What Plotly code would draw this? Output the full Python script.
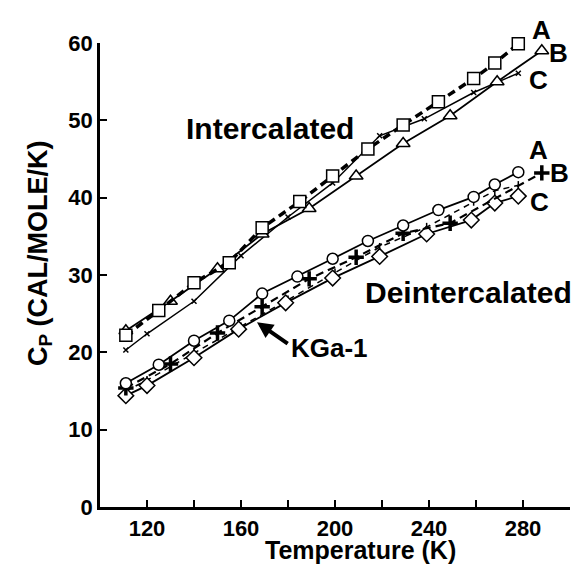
import plotly.graph_objects as go

# ---- data (temperature K, Cp cal/mole/K) ----
int_A_T = [111, 125, 140, 155, 169, 185, 199, 214, 229, 244, 259, 268, 278]
int_A_cp = [22.2, 25.4, 29.0, 31.6, 36.1, 39.5, 42.8, 46.3, 49.4, 52.4, 55.4, 57.4, 59.9]
int_B_T = [111, 130, 150, 169, 189, 209, 229, 249, 269, 288]
int_B_cp = [22.8, 26.6, 30.8, 35.3, 38.6, 42.8, 47.0, 50.6, 55.0, 59.0]
int_C_T = [111, 120, 140, 160, 180, 199, 219, 238, 259, 278]
int_C_cp = [20.3, 22.4, 26.6, 32.5, 37.5, 41.9, 48.0, 50.2, 53.6, 56.1]

de_A_T = [111, 125, 140, 155, 169, 184, 199, 214, 229, 244, 259, 268, 278]
de_A_cp = [16.0, 18.4, 21.5, 24.1, 27.6, 29.8, 32.1, 34.4, 36.4, 38.4, 40.1, 41.7, 43.3]
de_B_T = [111, 130, 150, 169, 189, 209, 229, 249, 288]
de_B_cp = [15.4, 18.5, 22.5, 25.9, 29.5, 32.3, 35.4, 36.7, 43.2]
de_C_T = [111, 120, 140, 159, 179, 199, 219, 239, 258, 268, 278]
de_C_cp = [14.4, 15.7, 19.3, 23.0, 26.4, 29.6, 32.4, 35.3, 37.1, 39.3, 40.2]
kga_T = [111, 120, 140, 160, 180, 200, 219, 239, 259, 268, 278]
kga_cp = [15.0, 16.4, 19.9, 23.3, 26.8, 30.3, 33.6, 36.2, 39.5, 40.9, 41.6]

x_tickvals = [100, 120, 140, 160, 180, 200, 220, 240, 260, 280, 300]
x_ticktext = ["", "120", "", "160", "", "200", "", "240", "", "280", ""]
y_tickvals = [0, 10, 20, 30, 40, 50, 60]

FONT = "Liberation Sans, Arial, sans-serif"
fig = go.Figure()

def add(T, cp, symbol, size, dash, width, mwidth=1.5):
    fig.add_trace(go.Scatter(
        x=T, y=cp, mode="lines+markers",
        line=dict(color="black", width=width, dash=dash),
        marker=dict(symbol=symbol, size=size, color="white",
                    line=dict(color="black", width=mwidth)),
        cliponaxis=False, showlegend=False))

# Intercalated
add(int_C_T, int_C_cp, "x-thin", 5, "solid", 1.5, 1.5)
add(int_B_T, int_B_cp, "triangle-up", 12, "solid", 1.8)
add(int_A_T, int_A_cp, "square", 12, "8px,5px", 3.5)
# Deintercalated
add(kga_T, kga_cp, "line-ns", 6, "6px,5px", 1.5, 1.5)
add(de_C_T, de_C_cp, "diamond", 12, "solid", 1.8)
add(de_B_T, de_B_cp, "cross-thin", 11, "8px,5px", 2.2, 3.5)
add(de_A_T, de_A_cp, "circle", 11, "solid", 1.8)

def label(x, y, text, size=26, xref="x", yref="y", angle=0):
    fig.add_annotation(x=x, y=y, text=text, showarrow=False, xref=xref, yref=yref,
                       xanchor="center", yanchor="middle", textangle=angle,
                       font=dict(family=FONT, size=size, color="black", weight="bold"))

label(287.7, 61.7 / 60, "A", yref="paper")
label(294.9, 58.7, "B")
label(286.8, 55.2, "C")
label(286.8, 46.2, "A")
label(295.7, 43.2, "B")
label(287.2, 39.5, "C")
label(172.5, 48.9, "Intercalated", 30)
label(256.8, 27.7, "Deintercalated", 30)
label(197.5, 20.6, "KGa-1", 26)

fig.add_annotation(x=166.8, y=23.9, ax=180.5, ay=21.0, axref="x", ayref="y",
                   xref="x", yref="y", text="", showarrow=True,
                   arrowhead=2, arrowsize=0.8, arrowwidth=4, arrowcolor="black")

# axis titles as annotations (positioned as in the reference)
label(0.555, -0.093, "Temperature (K)", 25, xref="paper", yref="paper")
label(-0.128, 0.547, "C<sub>P</sub> (CAL/MOLE/K)", 27, xref="paper", yref="paper", angle=-90)

fig.update_layout(
    width=577, height=571,
    margin=dict(l=100, r=7, t=43, b=64),
    paper_bgcolor="white", plot_bgcolor="white",
    font=dict(family=FONT, color="black", weight="bold"),
    xaxis=dict(range=[100, 300], tickvals=x_tickvals, ticktext=x_ticktext,
               ticks="inside", ticklen=7, tickwidth=2, tickcolor="black",
               showline=True, linewidth=2.5, linecolor="black",
               showgrid=False, zeroline=False,
               tickfont=dict(family=FONT, size=22, weight="bold")),
    yaxis=dict(range=[0, 60], tickvals=y_tickvals,
               ticks="inside", ticklen=7, tickwidth=2, tickcolor="black",
               showline=True, linewidth=2.5, linecolor="black",
               showgrid=False, zeroline=False,
               tickfont=dict(family=FONT, size=22, weight="bold")),
)

fig.write_html("out.html")
